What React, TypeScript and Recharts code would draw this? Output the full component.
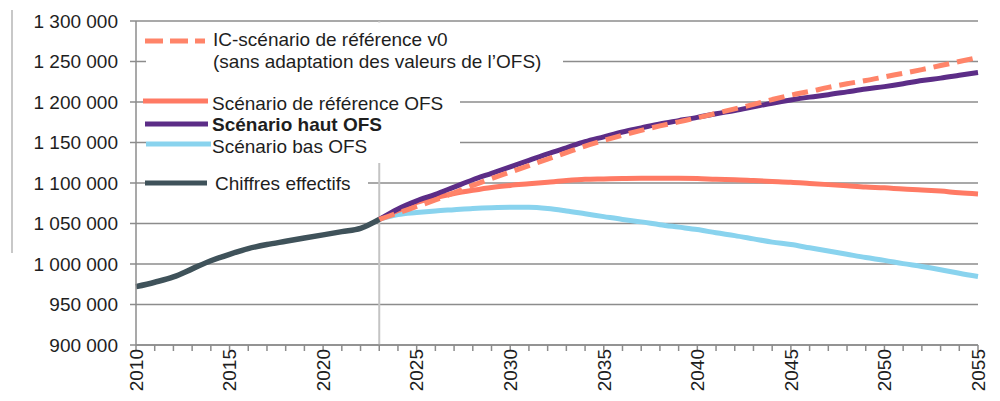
import { LineChart, Line, XAxis, YAxis, CartesianGrid, ReferenceLine } from "recharts"

// années
const pastYears = [2010, 2011, 2012, 2013, 2014, 2015, 2016, 2017, 2018, 2019, 2020, 2021, 2022, 2023]
const futureYears = [
  2023, 2024, 2025, 2026, 2027, 2028, 2029, 2030, 2031, 2032, 2033, 2034, 2035, 2036, 2037, 2038, 2039,
  2040, 2041, 2042, 2043, 2044, 2045, 2046, 2047, 2048, 2049, 2050, 2051, 2052, 2053, 2054, 2055,
]

const chiffresEffectifs = [
  972000, 977500, 984000, 994000, 1004000, 1012000, 1019000, 1024000, 1028000, 1032000, 1036000,
  1040000, 1044000, 1055000,
]

const scenarioReference = [
  1055000, 1066000, 1076000, 1082000, 1087000, 1091000, 1094500, 1097000, 1099000, 1101000, 1103000,
  1104500, 1105000, 1105500, 1105800, 1105800, 1105800, 1105500, 1104500, 1104000, 1103000, 1102000,
  1101000, 1099500, 1098000, 1096500, 1095000, 1094000, 1092500, 1091500, 1090000, 1088000, 1086500,
]

const scenarioHaut = [
  1055000, 1068000, 1078000, 1086000, 1095000, 1104000, 1112000, 1120000, 1128000, 1136000, 1143500,
  1151000, 1157000, 1163000, 1168000, 1173000, 1177000, 1181000, 1185500, 1189500, 1194000, 1198500,
  1202500, 1206000, 1209000, 1212500, 1216000, 1219000, 1222500, 1226500, 1229500, 1233000, 1236500,
]

const scenarioBas = [
  1055000, 1061000, 1063500, 1065500, 1067000, 1068500, 1069500, 1070000, 1070000, 1068500, 1065500,
  1062000, 1058500, 1055000, 1052000, 1048500, 1045500, 1042500, 1038500, 1035000, 1031000, 1027000,
  1024000, 1020000, 1016000, 1012000, 1008000, 1004500, 1000500, 997000, 993000, 988500, 984500,
]

const icScenario = [
  1055000, 1063000, 1071000, 1079000, 1088000, 1097000, 1105500, 1113500, 1121500, 1129500, 1137500,
  1145500, 1152500, 1159000, 1165000, 1170500, 1175500, 1180500, 1186000, 1191500, 1197000, 1203000,
  1208500, 1213000, 1218000, 1222500, 1226500, 1231000, 1235500, 1240000, 1245000, 1250000, 1255000,
]

const yTicks = [900000, 950000, 1000000, 1050000, 1100000, 1150000, 1200000, 1250000, 1300000]
const xTicks = Array.from({ length: 46 }, (_, i) => 2010 + i)

const allYears = Array.from(new Set([...pastYears, ...futureYears]))
const data = allYears.map((year) => {
  const p = pastYears.indexOf(year)
  const f = futureYears.indexOf(year)
  return {
    year,
    effectifs: p >= 0 ? chiffresEffectifs[p] : null,
    reference: f >= 0 ? scenarioReference[f] : null,
    haut: f >= 0 ? scenarioHaut[f] : null,
    bas: f >= 0 ? scenarioBas[f] : null,
    ic: f >= 0 ? icScenario[f] : null,
  }
})

const FONT = '"Liberation Sans", Arial, sans-serif'
const TEXT = "#1e1e1e"
const GRID = "#8c8c8c"

const formatThousands = (v: number) => String(v).replace(/\B(?=(\d{3})+(?!\d))/g, " ")

const YearTick = ({ x, y, payload }: any) => {
  if (payload.value % 5 !== 0) return null
  return (
    <text
      x={x}
      y={y - 2}
      transform={`rotate(-90 ${x} ${y - 2})`}
      textAnchor="end"
      dy="0.36em"
      fontSize={19}
      fontFamily={FONT}
      fill={TEXT}
    >
      {payload.value}
    </text>
  )
}

const LegendOverlay = () => (
  <svg width={1000} height={401} style={{ position: "absolute", left: 0, top: 0, pointerEvents: "none" }}>
    <line x1={12} y1={10} x2={12} y2={253} stroke="#c8c8c8" strokeWidth={2} />
    <rect x={146} y={22.5} width={417} height={53} fill="#fff" />
    <rect x={146} y={74} width={314} height={89} fill="#fff" />
    <rect x={146} y={163} width={222} height={33} fill="#fff" />
    <g fontFamily={FONT} fontSize={19} fill={TEXT}>
      <line x1={145} y1={41} x2={205} y2={41} stroke="#ff8469" strokeWidth={5} strokeDasharray="18 7" />
      <text x={213} y={46}>IC-scénario de référence v0</text>
      <text x={213} y={68}>(sans adaptation des valeurs de l’OFS)</text>
      <line x1={143} y1={101} x2={208} y2={101} stroke="#ff7a64" strokeWidth={5} />
      <text x={212} y={110}>Scénario de référence OFS</text>
      <line x1={145} y1={124} x2={208} y2={124} stroke="#5c2d87" strokeWidth={5} />
      <text x={212} y={131} fontWeight="bold">Scénario haut OFS</text>
      <line x1={146} y1={144} x2={211} y2={144} stroke="#89d3ee" strokeWidth={5} />
      <text x={212} y={153}>Scénario bas OFS</text>
      <line x1={145} y1={183} x2={207} y2={183} stroke="#3f525a" strokeWidth={5} />
      <text x={215} y={190}>Chiffres effectifs</text>
    </g>
  </svg>
)

export default function App() {
  return (
    <div style={{ position: "absolute", left: 0, top: 0, width: 1000, height: 401, background: "#fff" }}>
      <LineChart width={1000} height={401} data={data} margin={{ top: 21, right: 22, bottom: 0, left: 0 }}>
        <CartesianGrid horizontal vertical={false} stroke={GRID} strokeWidth={1.5} />
        <XAxis
          dataKey="year"
          type="number"
          domain={[2010, 2055]}
          ticks={xTicks}
          interval={0}
          height={56}
          tickSize={6}
          tickMargin={0}
          tick={<YearTick />}
          stroke={GRID}
          strokeWidth={1.5}
        />
        <YAxis
          type="number"
          domain={[900000, 1300000]}
          ticks={yTicks}
          width={136}
          tickSize={6}
          tickMargin={12}
          tickFormatter={formatThousands}
          tick={{ fontSize: 19, fontFamily: FONT, fill: TEXT }}
          stroke={GRID}
          strokeWidth={1.5}
        />
        <ReferenceLine x={2023} stroke="#c4c4c4" strokeWidth={2} />
        <Line type="monotone" dataKey="bas" stroke="#89d3ee" strokeWidth={5} dot={false} isAnimationActive={false} />
        <Line type="monotone" dataKey="reference" stroke="#ff7a64" strokeWidth={5} dot={false} isAnimationActive={false} />
        <Line type="monotone" dataKey="haut" stroke="#5c2d87" strokeWidth={5} dot={false} isAnimationActive={false} />
        <Line
          type="monotone"
          dataKey="ic"
          stroke="#ff8469"
          strokeWidth={5}
          strokeDasharray="16 8"
          dot={false}
          isAnimationActive={false}
        />
        <Line type="monotone" dataKey="effectifs" stroke="#3f525a" strokeWidth={5.5} dot={false} isAnimationActive={false} />
      </LineChart>
      <LegendOverlay />
    </div>
  )
}
